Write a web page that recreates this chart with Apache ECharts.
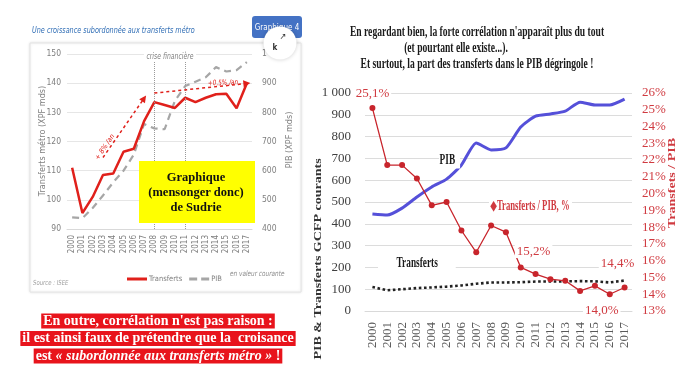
<!DOCTYPE html>
<html><head><meta charset="utf-8">
<script src="https://cdn.jsdelivr.net/npm/echarts@6/dist/echarts.min.js"></script>
<style>html,body{margin:0;padding:0;background:#fff}#c{width:684px;height:384px}</style>
</head><body><div id="c"></div>
<script>
// ---- data ----
const years = ['2000','2001','2002','2003','2004','2005','2006','2007','2008','2009','2010','2011','2012','2013','2014','2015','2016','2017'];
// left (reproduced) chart: transfers (XPF mds, left axis) and PIB (XPF mds, right axis)
const leftTransferts = [111, 95.5, 101, 108.5, 109, 116.5, 117.5, 127, 133.5, 132.5, 131.5, 135, 133.5, 135, 136.2, 136.4, 131.4, 140];
const leftPib = [440, 437, 472, 515, 560, 600, 655, 760, 745, 742, 840, 890, 905, 920, 955, 940, 945, 972];
// right chart: PIB and transfers (GCFP courants), ratio transfers / PIB (%)
const rightPib = [445, 440, 472, 523, 569, 605, 670, 771, 739, 748, 844, 894, 904, 917, 958, 945, 945, 972];
const rightTransferts = [110, 95, 100, 105, 108, 112, 117, 125, 131, 131, 132, 135, 135, 136, 137, 136, 131, 140];
const ratio = [25.1, 21.7, 21.7, 20.9, 19.3, 19.5, 17.8, 16.5, 18.1, 17.7, 15.6, 15.2, 14.9, 14.8, 14.2, 14.5, 14.0, 14.4];
const labelledRatio = {0: ['top', [0, 0]], 11: ['top', [-2, -8]], 17: ['top', [-7, -9]], 16: ['bottom', [-8, 2]]};

const SANS = "'Liberation Sans Narrow','DejaVu Sans Condensed',sans-serif";
const SERIF = "'Liberation Serif','DejaVu Serif',serif";
const RED_LBL = '#d03a40';
const S = 0.62;

const ratioData = ratio.map((v, i) => {
  const l = labelledRatio[i];
  if (!l) return v;
  return {value: v, label: {show: true, position: l[0], offset: l[1],
    formatter: p => p.value.toFixed(1).replace('.', ',') + '%',
    fontFamily: SERIF, fontSize: 13, color: RED_LBL, backgroundColor: '#fff', padding: [0, 2]}};
});

const chart = echarts.init(document.getElementById('c'), null, {renderer: 'canvas'});

function txt(x, y, text, font, fill, extra) {
  const el = {type: 'text', x: x, y: y, z: 100,
    style: Object.assign({text: text, font: font, fill: fill, align: 'center', verticalAlign: 'middle',
      textAlign: 'center', textVerticalAlign: 'middle'}, (extra && extra.style) || {})};
  if (extra) { for (const k in extra) if (k !== 'style') el[k] = extra[k]; }
  return el;
}

const graphics = [
  // left panel
  {type: 'rect', z: -10, shape: {x: 30, y: 43, width: 271, height: 249},
   style: {fill: '#fff', stroke: '#e4e4e4', lineWidth: 1, shadowBlur: 3, shadowColor: 'rgba(0,0,0,0.10)'}},
  txt(32, 31, 'Une croissance subordonnée aux transferts métro', 'italic 9px ' + SANS, '#2f6db5',
      {scaleX: 0.8, style: {align: 'left', textAlign: 'left'}}),
  // button
  {type: 'rect', z: 100, shape: {x: 252, y: 16, width: 50, height: 22, r: 3}, style: {fill: '#4472c4'}},
  txt(277, 28, 'Graphique 4', '8px ' + SANS, '#fff'),
  {type: 'circle', z: 101, shape: {cx: 280, cy: 43, r: 16.5}, style: {fill: '#fff', shadowBlur: 4, shadowColor: 'rgba(0,0,0,0.2)'}},
  txt(283, 37, '↗', '9px ' + SANS, '#333', {z: 102}),
  txt(275, 48, 'k', 'bold 8px ' + SANS, '#333', {z: 102}),
  // left axis names
  txt(43, 141, 'Transferts métro (XPF mds)', '9px ' + SANS, '#7f7f7f', {rotation: Math.PI / 2}),
  txt(290, 140, 'PIB (XPF mds)', '9px ' + SANS, '#7f7f7f', {rotation: Math.PI / 2}),
  txt(170, 57, 'crise financière', 'italic 8px ' + SANS, '#7f7f7f', {scaleX: 0.85, style: {backgroundColor: '#fff', padding: [0, 3]}}),
  txt(105, 147, '+ 8% /an', 'italic 7px ' + SANS, '#e0201b', {rotation: 0.98}),
  txt(223, 83, '+0.5% /an', 'italic 7.5px ' + SANS, '#e0201b', {rotation: 0.04, scaleX: 0.85}),
  // yellow box
  {type: 'rect', z: 100, shape: {x: 139, y: 161, width: 116, height: 62}, style: {fill: '#ffff00'}},
  txt(196, 178, 'Graphique', 'bold 12.5px ' + SERIF, '#111', {z: 101}),
  txt(196, 193, '(mensonger donc)', 'bold 12.5px ' + SERIF, '#111', {z: 101}),
  txt(196, 208, 'de Sudrie', 'bold 12.5px ' + SERIF, '#111', {z: 101}),
  // legend extras
  txt(230, 274, 'en valeur courante', 'italic 7.5px ' + SANS, '#8c8c8c', {scaleX: 0.85, style: {align: 'left', textAlign: 'left'}}),
  txt(33, 283, 'Source : ISEE', 'italic 7px ' + SANS, '#a0a0a0', {scaleX: 0.85, style: {align: 'left', textAlign: 'left'}}),
  // red statement
  txt(158, 321, "En outre, corrélation n'est pas raison :", 'bold 14px ' + SERIF, '#fff',
      {style: {backgroundColor: '#e8141c', padding: [1, 2, 0, 2]}}),
  txt(158, 338.5, 'il est ainsi faux de prétendre que la  croisance', 'bold 14px ' + SERIF, '#fff',
      {style: {backgroundColor: '#e8141c', padding: [1, 2, 0, 2]}}),
  txt(158, 356, 'est {i|« subordonnée aux transferts métro »} !', 'bold 14px ' + SERIF, '#fff',
      {style: {backgroundColor: '#e8141c', padding: [1, 2, 0, 2],
        rich: {i: {fontStyle: 'italic', fontWeight: 'bold', fontSize: 14, fontFamily: SERIF, fill: '#fff', color: '#fff'}}}}),
  // right titles
  txt(477, 32, "En regardant bien, la forte corrélation n'apparaît plus du tout", 'bold 15px ' + SERIF, '#1a1a1a', {scaleX: 0.64}),
  txt(456, 48, '(et pourtant elle existe...).', 'bold 15px ' + SERIF, '#1a1a1a', {scaleX: 0.64}),
  txt(477, 64, 'Et surtout, la part des transferts dans le PIB dégringole !', 'bold 15px ' + SERIF, '#1a1a1a', {scaleX: 0.64}),
  // right axis names
  txt(318, 259, 'PIB & Transferts GCFP courants', 'bold 14px ' + SERIF, '#333', {rotation: Math.PI / 2, scaleY: 0.7}),
  txt(672, 183, 'Transfets / PIB', 'bold 14px ' + SERIF, RED_LBL, {rotation: Math.PI / 2, scaleY: 0.7}),
  // right annotations
  txt(439, 160, 'PIB', 'bold 15px ' + SERIF, '#1a1a1a',
      {scaleX: S, style: {align: 'left', textAlign: 'left', backgroundColor: '#fff', padding: [1, 8, 1, 1]}}),
  txt(0, 263, 'Transferts', 'bold 15px ' + SERIF, '#1a1a1a',
      {x: 378, scaleX: S, style: {align: 'left', textAlign: 'left', backgroundColor: '#fff', padding: [1, 29, 1, 30]}}),
  txt(489, 206, '◆Transferts / PIB, %', 'bold 14px ' + SERIF, RED_LBL,
      {scaleX: S, style: {align: 'left', textAlign: 'left', backgroundColor: '#fff', padding: [1, 4, 1, 2]}})
];

const option = {
  animation: false,
  backgroundColor: '#fff',
  textStyle: {fontFamily: SANS},
  legend: {
    data: [
      {name: 'Transferts', icon: 'rect'},
      {name: 'PIB', icon: 'path://M0,0h8v3h-8z M12,0h8v3h-8z'}
    ],
    left: 122, top: 270, itemWidth: 20, itemHeight: 3, itemGap: 7,
    selectedMode: false, textStyle: {fontSize: 7.5, color: '#7f7f7f', fontFamily: SANS, padding: [0, 0, 0, -3]}
  },
  grid: [
    {left: 67, top: 54, width: 185, height: 175},
    {left: 365, top: 93, width: 267, height: 218}
  ],
  xAxis: [
    {gridIndex: 0, type: 'category', data: years, boundaryGap: true,
     axisLine: {lineStyle: {color: '#d9d9d9'}}, axisTick: {show: false},
     axisLabel: {rotate: 90, interval: 0, fontSize: 8, color: '#7f7f7f', margin: 6, fontFamily: SANS}},
    {gridIndex: 1, type: 'category', data: years, boundaryGap: true,
     axisLine: {lineStyle: {color: '#d9d9d9'}}, axisTick: {show: false},
     axisLabel: {rotate: 90, interval: 0, fontSize: 13, color: '#595959', margin: 11, fontFamily: SERIF}}
  ],
  yAxis: [
    {gridIndex: 0, type: 'value', min: 90, max: 150, interval: 10,
     axisLine: {show: false}, axisTick: {show: false},
     axisLabel: {fontSize: 8.5, color: '#7f7f7f', margin: 6, fontFamily: SANS},
     splitLine: {lineStyle: {color: '#e6e6e6'}}},
    {gridIndex: 0, type: 'value', position: 'right', min: 400, max: 1000, interval: 100,
     axisLine: {show: false}, axisTick: {show: false}, splitLine: {show: false},
     axisLabel: {fontSize: 8.5, color: '#7f7f7f', margin: 10, fontFamily: SANS,
       formatter: v => v === 1000 ? '1 000' : String(v)}},
    {gridIndex: 1, type: 'value', min: 0, max: 1000, interval: 100,
     axisLine: {show: false}, axisTick: {show: false},
     axisLabel: {fontSize: 13, color: '#404040', margin: 14, fontFamily: SERIF,
       formatter: v => v === 1000 ? '1 000' : String(v)},
     splitLine: {lineStyle: {color: '#dcdcdc'}}},
    {gridIndex: 1, type: 'value', position: 'right', min: 13, max: 26, interval: 1,
     axisLine: {show: false}, axisTick: {show: false}, splitLine: {show: false},
     axisLabel: {fontSize: 13, color: RED_LBL, margin: 10, fontFamily: SERIF, formatter: '{value}%'}}
  ],
  series: [
    {name: 'Transferts', type: 'line', xAxisIndex: 0, yAxisIndex: 0, data: leftTransferts,
     symbol: 'none', color: '#e0201b', lineStyle: {width: 2.5, color: '#e0201b'}, z: 4,
     markLine: {silent: true, symbol: ['none', 'none'], label: {show: false},
       data: [
         [{coord: [8, 90], lineStyle: {type: 'dotted', color: '#9a9a9a', width: 1}}, {coord: [8, 148]}],
         [{coord: [11, 90], lineStyle: {type: 'dotted', color: '#9a9a9a', width: 1}}, {coord: [11, 148]}],
         [{coord: [3.4, 114.5], lineStyle: {type: [3, 3], color: '#e0201b', width: 1.5}}, {coord: [7.25, 134.8], symbol: 'triangle', symbolSize: 7}],
         [{coord: [8, 136.6], lineStyle: {type: [3, 3], color: '#e0201b', width: 1.5}}, {coord: [17.4, 139.9], symbol: 'triangle', symbolSize: 7}]
       ]}},
    {name: 'PIB', type: 'line', xAxisIndex: 0, yAxisIndex: 1, data: leftPib,
     symbol: 'none', color: '#a6a6a6', lineStyle: {width: 2.2, color: '#a6a6a6', type: [7, 5]}, z: 3},
    {name: 'PIB GCFP', type: 'line', xAxisIndex: 1, yAxisIndex: 2, data: rightPib,
     symbol: 'none', smooth: 0.2, color: '#5550d9', lineStyle: {width: 3, color: '#5550d9'}, z: 3},
    {name: 'Transferts GCFP', type: 'line', xAxisIndex: 1, yAxisIndex: 2, data: rightTransferts,
     symbol: 'none', color: '#222', lineStyle: {width: 2.6, color: '#222', type: 'dotted'}, z: 3},
    {name: 'Transferts / PIB', type: 'line', xAxisIndex: 1, yAxisIndex: 3, data: ratioData,
     symbol: 'circle', symbolSize: 6, color: '#c8252c',
     itemStyle: {color: '#c8252c'}, lineStyle: {width: 1.3, color: '#c8252c'}, z: 5}
  ],
  graphic: {elements: graphics}
};
chart.setOption(option);
</script></body></html>
